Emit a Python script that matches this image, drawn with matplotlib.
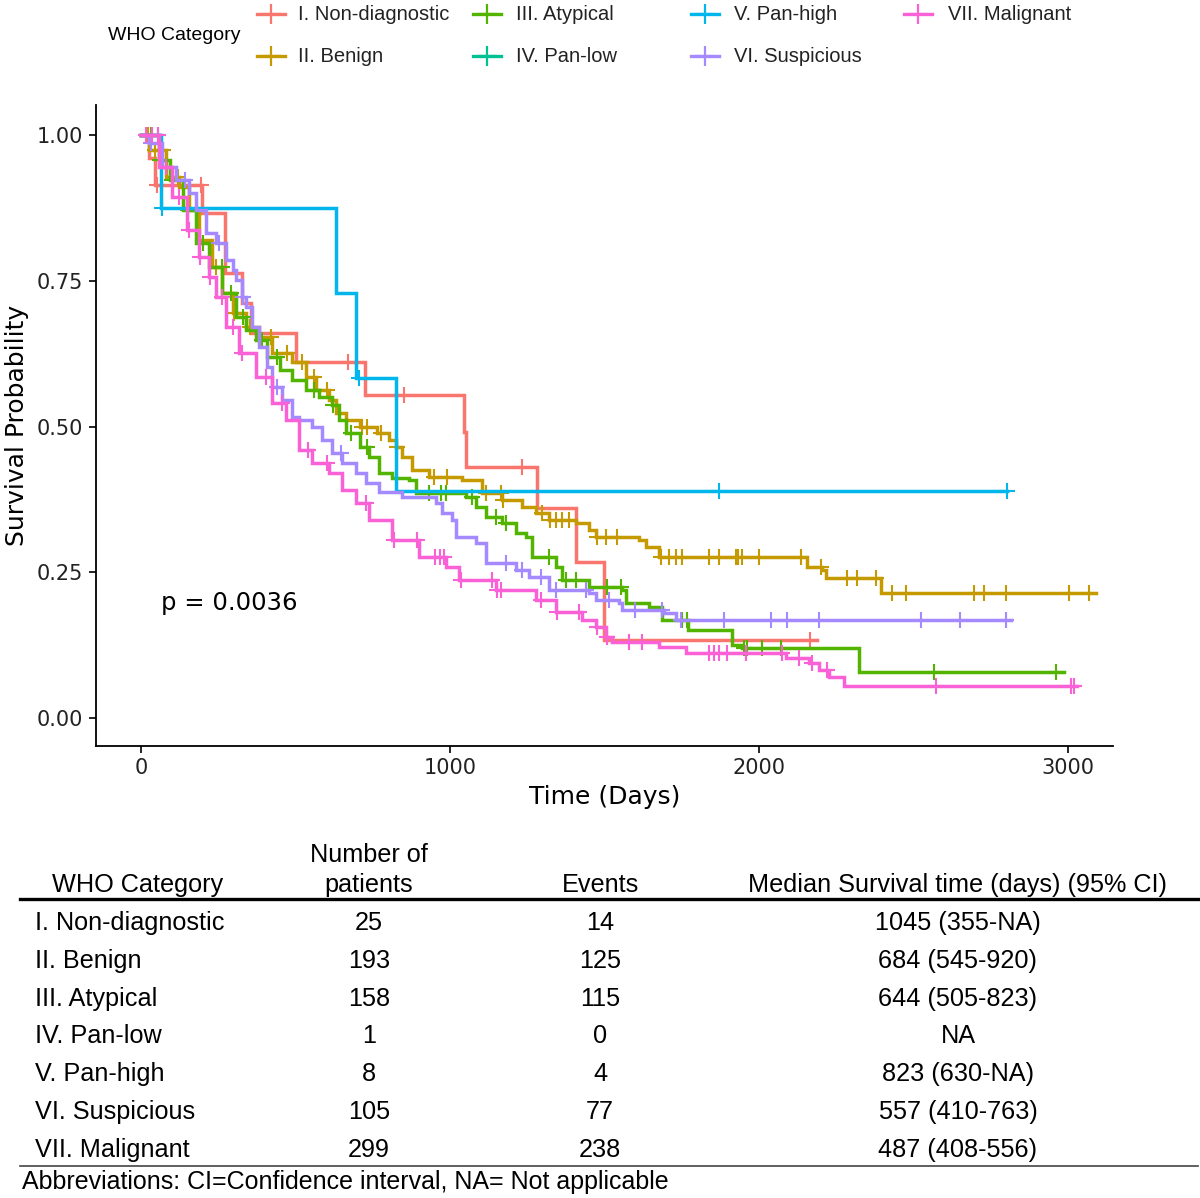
import numpy as np
import matplotlib
matplotlib.use("Agg")
import matplotlib.pyplot as plt
from matplotlib.lines import Line2D

W, H = 1200, 1198

# group labels and ggplot hue colours
groups = ["I. Non-diagnostic", "II. Benign", "III. Atypical", "IV. Pan-low",
          "V. Pan-high", "VI. Suspicious", "VII. Malignant"]
colors = ["#F8766D", "#C49A00", "#53B400", "#00C094", "#00B6EB", "#A58AFF", "#FB61D7"]

# step curves: step times (days), survival after step, censor times
t_nd = [0, 25, 45, 197, 272, 327, 356, 502, 725, 1045, 1052, 1282, 1408, 1498, 2188]
s_nd = [1.0, 0.96, 0.914, 0.866, 0.763, 0.712, 0.660, 0.611, 0.554, 0.491, 0.431, 0.360, 0.268, 0.134, 0.134]
c_nd = [50, 193, 670, 851, 1233, 2165]

t_be = [0, 26, 81, 123, 155, 188, 230, 262, 295, 340, 382, 424, 489, 534, 566, 608, 631, 663, 706, 761,
        803, 825, 845, 877, 932, 1039, 1104, 1168, 1233, 1278, 1320, 1408, 1450, 1472, 1612, 1634, 1676,
        2155, 2204, 2217, 2395, 3090]
s_be = [1.0, 0.974, 0.928, 0.911, 0.871, 0.820, 0.774, 0.729, 0.695, 0.671, 0.654, 0.626, 0.611, 0.585,
        0.563, 0.545, 0.523, 0.511, 0.499, 0.489, 0.477, 0.465, 0.448, 0.425, 0.413, 0.408, 0.386, 0.374,
        0.362, 0.352, 0.340, 0.334, 0.322, 0.310, 0.305, 0.293, 0.276, 0.259, 0.254, 0.240, 0.214, 0.214]
c_be = [20, 45, 70, 120, 180, 240, 300, 350, 420, 470, 520, 560, 600, 715, 731, 777, 828, 948, 990, 1117,
        1165, 1170, 1298, 1322, 1343, 1362, 1385, 1476, 1505, 1540, 1683, 1709, 1731, 1751, 1838, 1871,
        1926, 1932, 1945, 2000, 2136, 2201, 2285, 2317, 2379, 2430, 2476, 2696, 2728, 2800, 3003, 3068]

t_at = [0, 58, 91, 133, 178, 220, 262, 307, 340, 372, 405, 447, 489, 534, 576, 618, 641, 663, 706, 738,
        770, 812, 867, 890, 1052, 1084, 1117, 1168, 1214, 1246, 1265, 1343, 1362, 1450, 1557, 1570, 1644,
        1686, 1770, 1913, 1945, 2324, 2985]
s_at = [1.0, 0.957, 0.923, 0.871, 0.815, 0.774, 0.729, 0.688, 0.666, 0.648, 0.619, 0.597, 0.580, 0.563,
        0.551, 0.537, 0.511, 0.489, 0.465, 0.448, 0.420, 0.412, 0.408, 0.386, 0.379, 0.362, 0.345, 0.334,
        0.317, 0.310, 0.276, 0.259, 0.237, 0.225, 0.220, 0.197, 0.190, 0.168, 0.151, 0.125, 0.120, 0.079, 0.079]
c_at = [30, 60, 100, 150, 200, 260, 290, 330, 390, 440, 560, 620, 680, 730, 932, 971, 987, 1071, 1149,
        1181, 1320, 1375, 1408, 1508, 1553, 1751, 1767, 1950, 1961, 2010, 2071, 2566, 2961]

t_pl = [0, 55]
s_pl = [1.0, 1.0]
c_pl = [55]

t_ph = [0, 65, 630, 695, 823, 2803]
s_ph = [1.0, 0.875, 0.729, 0.583, 0.389, 0.389]
c_ph = [68, 705, 1870, 2803]

t_su = [0, 26, 68, 113, 155, 178, 210, 243, 275, 295, 307, 327, 340, 359, 382, 405, 424, 456, 489, 511,
        553, 586, 618, 650, 696, 728, 770, 845, 955, 974, 1006, 1019, 1084, 1117, 1214, 1256, 1320, 1450,
        1472, 1547, 1557, 1693, 1731, 2816]
s_su = [1.0, 0.986, 0.945, 0.923, 0.900, 0.871, 0.832, 0.815, 0.786, 0.768, 0.751, 0.722, 0.705, 0.671,
        0.636, 0.602, 0.568, 0.545, 0.516, 0.511, 0.499, 0.477, 0.455, 0.437, 0.420, 0.403, 0.388, 0.379,
        0.369, 0.352, 0.340, 0.310, 0.300, 0.266, 0.254, 0.242, 0.220, 0.214, 0.202, 0.197, 0.185, 0.180,
        0.168, 0.168]
c_su = [30, 80, 140, 250, 330, 440, 647, 1181, 1233, 1294, 1343, 1440, 1515, 1598, 1686, 1748, 1887,
        2039, 2091, 2194, 2524, 2650, 2800]

t_ma = [0, 58, 100, 146, 188, 220, 243, 275, 317, 372, 424, 469, 511, 553, 608, 650, 696, 738, 812, 900,
        987, 1029, 1149, 1278, 1343, 1427, 1472, 1505, 1524, 1676, 1764, 2087, 2162, 2194, 2227, 2275, 3030]
s_ma = [1.0, 0.945, 0.894, 0.837, 0.791, 0.756, 0.722, 0.671, 0.626, 0.585, 0.540, 0.511, 0.460, 0.437,
        0.420, 0.391, 0.369, 0.340, 0.305, 0.276, 0.259, 0.237, 0.220, 0.202, 0.182, 0.168, 0.156, 0.139,
        0.130, 0.122, 0.111, 0.103, 0.094, 0.082, 0.070, 0.055, 0.055]
c_ma = [15, 35, 55, 80, 123, 155, 190, 222, 260, 295, 327, 404, 456, 540, 600, 728, 819, 893, 950, 965,
        980, 1036, 1136, 1152, 1165, 1294, 1345, 1417, 1474, 1508, 1579, 1621, 1838, 1854, 1871, 1897,
        1958, 2074, 2130, 2172, 2220, 2573, 3010, 3018]

curves = [(t_nd, s_nd, c_nd), (t_be, s_be, c_be), (t_at, s_at, c_at), (t_pl, s_pl, c_pl),
          (t_ph, s_ph, c_ph), (t_su, s_su, c_su), (t_ma, s_ma, c_ma)]

# table values
n_patients = ["25", "193", "158", "1", "8", "105", "299"]
n_events = ["14", "125", "115", "0", "4", "77", "238"]
median_ci = ["1045 (355-NA)", "684 (545-920)", "644 (505-823)", "NA",
             "823 (630-NA)", "557 (410-763)", "487 (408-556)"]
p_text = "p = 0.0036"


def fx(x):
    return x / W


def fy(y):
    return 1 - y / H


fig = plt.figure(figsize=(12, 11.98), dpi=100)
ax = fig.add_axes([fx(96), fy(746), (1113 - 96) / W, (746 - 105) / H])

for (t, s, c), col in zip(curves, colors):
    t = np.array(t, dtype=float)
    s = np.array(s, dtype=float)
    ax.step(t, s, where="post", color=col, lw=2.5, solid_joinstyle="miter")
    c = np.array(c, dtype=float)
    cy = s[np.searchsorted(t, c, side="right") - 1]
    ax.plot(c, cy, ls="none", marker="+", ms=12, mew=1.5, color=col)

ax.set_xlim(-147, 3145)
ax.set_ylim(-0.048, 1.0515)
ax.set_xticks([0, 1000, 2000, 3000])
ax.set_yticks([0, 0.25, 0.5, 0.75, 1.0])
ax.set_yticklabels(["0.00", "0.25", "0.50", "0.75", "1.00"])
for side in ["top", "right"]:
    ax.spines[side].set_visible(False)
for side in ["left", "bottom"]:
    ax.spines[side].set_linewidth(1.3)
ax.tick_params(labelsize=15, length=5, width=1.2, labelcolor="#222222", pad=4)
ax.set_xlabel("Time (Days)", fontsize=18, labelpad=5)
ax.set_ylabel("Survival Probability", fontsize=18, labelpad=6)
ax.text(62, 0.197, p_text, fontsize=17.5, va="center", ha="left")

# legend across the top
leg_font = "Liberation Sans"
fig.text(fx(108), fy(35), "WHO Category", fontsize=14, family=leg_font, va="center", ha="left")
mark_x = [271, 487, 705, 918]
text_x = [298, 516, 734, 948]
row_y = [14, 56]
for i, (g, col) in enumerate(zip(groups, colors)):
    ci, ri = i // 2, i % 2
    mx, y = mark_x[ci], row_y[ri]
    fig.add_artist(Line2D([fx(mx - 14), fx(mx + 14)], [fy(y), fy(y)], transform=fig.transFigure,
                          color=col, lw=2.4))
    fig.add_artist(Line2D([fx(mx)], [fy(y)], transform=fig.transFigure, color=col,
                          marker="+", ms=14, mew=1.6, ls="none"))
    fig.text(fx(text_x[ci]), fy(y), g, fontsize=14.5, family=leg_font, va="center", ha="left",
             color="#222222")

# summary table
tfs = 18.2
fig.text(fx(138), fy(885), "WHO Category", fontsize=tfs, family=leg_font, ha="center", va="center")
fig.text(fx(369), fy(855), "Number of", fontsize=tfs, family=leg_font, ha="center", va="center")
fig.text(fx(369), fy(885), "patients", fontsize=tfs, family=leg_font, ha="center", va="center")
fig.text(fx(600), fy(885), "Events", fontsize=tfs, family=leg_font, ha="center", va="center")
fig.text(fx(957), fy(885), "Median Survival time (days) (95% CI)", fontsize=tfs, family=leg_font,
         ha="center", va="center")
fig.add_artist(Line2D([fx(20), fx(1198)], [fy(899), fy(899)], transform=fig.transFigure,
                      color="black", lw=2.4))
row_centers = [923, 961, 999, 1036, 1074, 1112, 1150]
for g, n, e, m, y in zip(groups, n_patients, n_events, median_ci, row_centers):
    fig.text(fx(35), fy(y), g, fontsize=tfs, family=leg_font, ha="left", va="center")
    fig.text(fx(369), fy(y), n, fontsize=tfs, family=leg_font, ha="center", va="center")
    fig.text(fx(600), fy(y), e, fontsize=tfs, family=leg_font, ha="center", va="center")
    fig.text(fx(958), fy(y), m, fontsize=tfs, family=leg_font, ha="center", va="center")
fig.add_artist(Line2D([fx(20), fx(1198)], [fy(1166), fy(1166)], transform=fig.transFigure,
                      color="#444444", lw=1.2))
fig.text(fx(22), fy(1182), "Abbreviations: CI=Confidence interval, NA= Not applicable",
         fontsize=18, family=leg_font, ha="left", va="center")

fig.savefig("out.png", dpi=100)
